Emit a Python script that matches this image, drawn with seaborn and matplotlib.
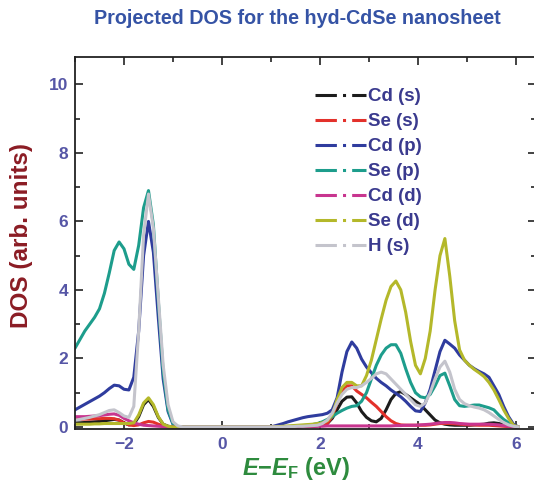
import matplotlib
matplotlib.use("Agg")
import matplotlib.pyplot as plt
import pandas as pd
import seaborn as sns
from matplotlib.lines import Line2D
from matplotlib.ticker import MultipleLocator

sns.set_theme(style="ticks")
plt.rcParams["font.family"] = ["Liberation Sans", "DejaVu Sans"]
plt.rcParams["font.weight"] = "bold"
plt.rcParams["mathtext.fontset"] = "custom"
plt.rcParams["mathtext.it"] = "Liberation Sans:italic:bold"
plt.rcParams["mathtext.rm"] = "Liberation Sans:bold"
plt.rcParams["mathtext.bf"] = "Liberation Sans:bold"

# Energy grids (eV, relative to the Fermi level)
energy_vb = [-3.0, -2.9, -2.8, -2.7, -2.6, -2.5, -2.4, -2.3, -2.2, -2.1,
             -2.0, -1.9, -1.8, -1.7, -1.6, -1.5, -1.4, -1.3, -1.2, -1.1,
             -1.0, -0.9, -0.8]
energy_cb = [0.95, 1.05, 1.15, 1.25, 1.35, 1.45, 1.55, 1.65, 1.75, 1.85,
             1.95, 2.05, 2.15, 2.25, 2.35, 2.45, 2.55, 2.65, 2.75, 2.85,
             2.95, 3.05, 3.15, 3.25, 3.35, 3.45, 3.55, 3.65, 3.75, 3.85,
             3.95, 4.05, 4.15, 4.25, 4.35, 4.45, 4.55, 4.65, 4.75, 4.85,
             4.95, 5.05, 5.15, 5.25, 5.35, 5.45, 5.55, 5.65, 5.75, 5.85,
             5.95, 6.05]

# Projected DOS, valence side
cd_s_vb = [0.12, 0.12, 0.13, 0.14, 0.15, 0.16, 0.18, 0.2, 0.22, 0.2,
           0.12, 0.06, 0.08, 0.3, 0.65, 0.8, 0.6, 0.28, 0.08, 0.02,
           0, 0, 0]
se_s_vb = [0.22, 0.22, 0.23, 0.23, 0.24, 0.24, 0.25, 0.25, 0.24, 0.2,
           0.12, 0.06, 0.04, 0.06, 0.12, 0.16, 0.14, 0.08, 0.03, 0.01,
           0, 0, 0]
cd_p_vb = [0.5, 0.58, 0.66, 0.74, 0.82, 0.9, 1.0, 1.12, 1.22, 1.2,
           1.1, 1.08, 1.45, 2.8, 5.0, 6.0, 5.1, 3.2, 1.4, 0.45,
           0.08, 0.01, 0]
se_p_vb = [2.3, 2.55, 2.8, 3.0, 3.2, 3.45, 3.9, 4.5, 5.15, 5.4,
           5.2, 4.75, 4.6, 5.3, 6.4, 6.9, 5.9, 3.7, 1.6, 0.5,
           0.1, 0.01, 0]
cd_d_vb = [0.3, 0.3, 0.3, 0.31, 0.32, 0.33, 0.35, 0.37, 0.38, 0.34,
           0.25, 0.18, 0.12, 0.08, 0.05, 0.04, 0.03, 0.02, 0.01, 0,
           0, 0, 0]
se_d_vb = [0.08, 0.08, 0.08, 0.08, 0.09, 0.09, 0.1, 0.1, 0.1, 0.1,
           0.1, 0.1, 0.12, 0.35, 0.7, 0.85, 0.65, 0.3, 0.08, 0.02,
           0, 0, 0]
h_s_vb = [0.2, 0.22, 0.25, 0.28, 0.32, 0.36, 0.42, 0.48, 0.5, 0.42,
          0.32, 0.28, 0.6, 2.8, 5.6, 6.8, 5.8, 3.8, 1.8, 0.65,
          0.15, 0.03, 0]

# Projected DOS, conduction side
cd_s_cb = [0, 0, 0, 0, 0, 0, 0, 0.01, 0.01, 0.02,
           0.03, 0.05, 0.1, 0.25, 0.5, 0.75, 0.87, 0.88, 0.7, 0.45,
           0.28, 0.18, 0.15, 0.25, 0.5, 0.8, 0.98, 1.03, 0.95, 0.85,
           0.75, 0.65, 0.5, 0.35, 0.2, 0.12, 0.08, 0.06, 0.05, 0.05,
           0.05, 0.05, 0.06, 0.07, 0.08, 0.11, 0.12, 0.1, 0.07, 0.04,
           0.01, 0]
se_s_cb = [0, 0, 0, 0, 0, 0, 0, 0.01, 0.01, 0.02,
           0.03, 0.05, 0.1, 0.3, 0.7, 1.05, 1.2, 1.2, 1.05, 0.95,
           0.85, 0.72, 0.6, 0.45, 0.3, 0.18, 0.1, 0.06, 0.05, 0.05,
           0.05, 0.05, 0.05, 0.06, 0.08, 0.1, 0.1, 0.1, 0.09, 0.08,
           0.07, 0.06, 0.06, 0.05, 0.05, 0.05, 0.04, 0.03, 0.02, 0.01,
           0, 0]
cd_p_cb = [0, 0.02, 0.06, 0.1, 0.15, 0.19, 0.23, 0.27, 0.3, 0.32,
           0.34, 0.36, 0.4, 0.5, 0.85, 1.6, 2.2, 2.48, 2.3, 1.98,
           1.75, 1.58, 1.42, 1.3, 1.2, 1.08, 0.98, 0.88, 0.75, 0.6,
           0.47, 0.45, 0.7, 1.1, 1.65, 2.2, 2.53, 2.42, 2.3, 2.1,
           1.95, 1.8, 1.7, 1.62, 1.55, 1.45, 1.2, 0.95, 0.6, 0.3,
           0.08, 0]
se_p_cb = [0, 0, 0, 0.01, 0.01, 0.02, 0.03, 0.04, 0.05, 0.07,
           0.1, 0.15, 0.22, 0.3, 0.4, 0.48, 0.55, 0.6, 0.62, 0.75,
           1.0, 1.4, 1.8, 2.1, 2.3, 2.4, 2.4, 2.15, 1.7, 1.3,
           1.0, 0.88, 0.85, 0.95, 1.2, 1.5, 1.57, 1.2, 0.8, 0.62,
           0.6, 0.62, 0.64, 0.64, 0.6, 0.56, 0.5, 0.35, 0.22, 0.12,
           0.03, 0]
cd_d_cb = [0, 0, 0, 0, 0, 0.01, 0.01, 0.01, 0.02, 0.02,
           0.02, 0.02, 0.03, 0.03, 0.03, 0.03, 0.03, 0.03, 0.03, 0.03,
           0.03, 0.03, 0.03, 0.03, 0.03, 0.03, 0.04, 0.04, 0.05, 0.05,
           0.05, 0.06, 0.07, 0.08, 0.1, 0.12, 0.13, 0.13, 0.12, 0.1,
           0.09, 0.08, 0.08, 0.08, 0.08, 0.08, 0.07, 0.06, 0.04, 0.02,
           0.01, 0]
se_d_cb = [0, 0, 0.01, 0.02, 0.03, 0.04, 0.05, 0.06, 0.07, 0.08,
           0.1, 0.12, 0.18, 0.35, 0.8, 1.15, 1.3, 1.3, 1.2, 1.2,
           1.5, 1.95, 2.55, 3.15, 3.7, 4.1, 4.26, 4.0, 3.35, 2.5,
           1.8, 1.55, 2.0, 2.8, 4.0, 5.0, 5.5, 4.4, 3.1, 2.25,
           1.95, 1.8, 1.68, 1.58, 1.47, 1.3, 1.08, 0.8, 0.5, 0.25,
           0.05, 0]
h_s_cb = [0, 0, 0, 0, 0.01, 0.01, 0.02, 0.02, 0.03, 0.04,
          0.05, 0.1, 0.2, 0.4, 0.7, 0.95, 1.1, 1.15, 1.15, 1.2,
          1.3, 1.42, 1.55, 1.6, 1.55, 1.4, 1.25, 1.1, 0.95, 0.8,
          0.65, 0.6, 0.7, 1.0, 1.4, 1.75, 1.92, 1.6, 1.1, 0.8,
          0.68, 0.62, 0.58, 0.55, 0.5, 0.42, 0.32, 0.22, 0.13, 0.06,
          0.02, 0]

orbitals = ["Cd (s)", "Se (s)", "Cd (p)", "Se (p)", "Cd (d)", "Se (d)", "H (s)"]
colors = ["#1c1c1c", "#e3312b", "#2f3c9e", "#1d9d8c", "#c8358f", "#b4b82a", "#c4c4cc"]
vb_sets = [cd_s_vb, se_s_vb, cd_p_vb, se_p_vb, cd_d_vb, se_d_vb, h_s_vb]
cb_sets = [cd_s_cb, se_s_cb, cd_p_cb, se_p_cb, cd_d_cb, se_d_cb, h_s_cb]

frames = []
for name, vb, cb in zip(orbitals, vb_sets, cb_sets):
    frames.append(pd.DataFrame({"E": energy_vb + energy_cb,
                                "DOS": vb + cb,
                                "orbital": name}))
df = pd.concat(frames, ignore_index=True)

W, H = 534, 486
fig = plt.figure(figsize=(W / 100, H / 100), dpi=100)
ax = fig.add_axes([75 / W, 1 - 429 / H, (536 - 75) / W, (429 - 57) / H])

sns.lineplot(data=df, x="E", y="DOS", hue="orbital", hue_order=orbitals,
             palette=colors, sort=False, estimator=None, lw=2.2,
             legend=False, ax=ax)

ax.set_xlim(-3.0, 6.41)
ax.set_ylim(-0.06, 10.8)
ax.xaxis.set_major_locator(MultipleLocator(2))
ax.xaxis.set_minor_locator(MultipleLocator(1))
ax.yaxis.set_major_locator(MultipleLocator(2))
ax.yaxis.set_minor_locator(MultipleLocator(1))
ax.set_xlabel("")
ax.set_ylabel("")
ax.tick_params(which="both", direction="in", top=True, right=True,
               color="#222222", width=1.2, labelcolor="#5656a6",
               labelsize=12.5)
ax.tick_params(which="major", length=6)
ax.tick_params(which="minor", length=3.5)
ax.tick_params(axis="x", pad=6)
ax.tick_params(axis="y", pad=5)
for spine in ax.spines.values():
    spine.set_linewidth(1.3)
    spine.set_color("#222222")

handles = [Line2D([], [], color=c, lw=2.2, ls=(0, (7, 2, 1, 2)))
           for c in colors]
leg = ax.legend(handles, orbitals, loc="upper left",
                bbox_to_anchor=(315 / W, 1 - 88 / H),
                bbox_transform=fig.transFigure, frameon=False,
                handlelength=2.7, handletextpad=0.15, labelspacing=0.42,
                borderpad=0, borderaxespad=0,
                prop={"size": 13.5, "weight": "bold"})
for t in leg.get_texts():
    t.set_color("#3a3a8e")

fig.text(297 / W, 1 - 18 / H, "Projected DOS for the hyd-CdSe nanosheet",
         ha="center", va="center", color="#3553a5", fontsize=14.2,
         fontweight="bold")
fig.text(22 / W, 1 - 236 / H, "DOS (arb. units)", rotation=90,
         ha="center", va="center", color="#8b1c24", fontsize=17.5,
         fontweight="bold")
fig.text(296 / W, 1 - 468 / H, r"$E$−$E_{\mathrm{F}}$ (eV)",
         ha="center", va="center", color="#2e8b3e", fontsize=17,
         fontweight="bold")

fig.savefig("out.png", dpi=100)
